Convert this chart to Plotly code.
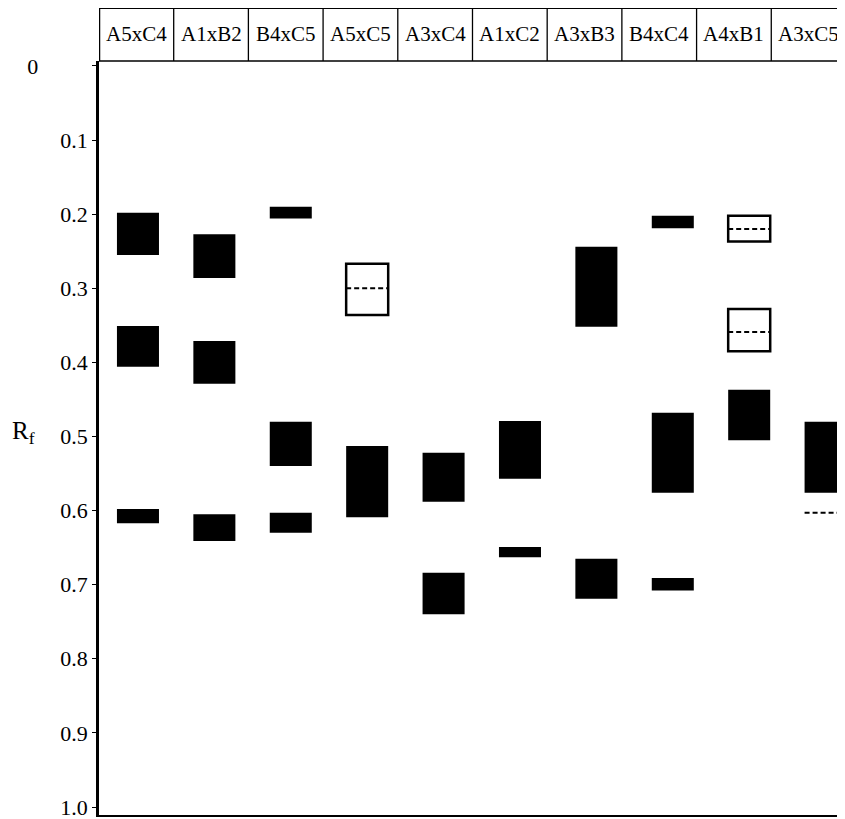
import plotly.graph_objects as go

# ---------------- data ----------------
categories = ["A5xC4", "A1xB2", "B4xC5", "A5xC5", "A3xC4",
              "A1xC2", "A3xB3", "B4xC4", "A4xB1", "A3xC5"]

# solid (filled) bands: lane index, Rf top, Rf bottom
solid_lane = [0, 0, 0, 1, 1, 1, 2, 2, 2, 3, 4, 4, 5, 5, 6, 6, 7, 7, 7, 8, 9]
solid_top = [0.198, 0.351, 0.598, 0.227, 0.371, 0.605, 0.190, 0.480, 0.603,
             0.513, 0.522, 0.684, 0.479, 0.649, 0.244, 0.665, 0.202, 0.468,
             0.691, 0.437, 0.480]
solid_bottom = [0.255, 0.406, 0.617, 0.286, 0.429, 0.641, 0.206, 0.540, 0.630,
                0.609, 0.588, 0.740, 0.557, 0.663, 0.352, 0.719, 0.219, 0.576,
                0.708, 0.505, 0.576]

# open (faint) bands
open_lane = [3, 8, 8]
open_top = [0.267, 0.202, 0.328]
open_bottom = [0.336, 0.237, 0.385]

# dashed lines (very faint bands)
dash_lane = [3, 8, 8, 9]
dash_rf = [0.300, 0.220, 0.359, 0.603]

rf_ticks = [0.0, 0.1, 0.2, 0.3, 0.4, 0.5, 0.6, 0.7, 0.8, 0.9, 1.0]
rf_ticktext = ["0" + "\u00a0" * 9, "0.1", "0.2", "0.3", "0.4", "0.5",
               "0.6", "0.7", "0.8", "0.9", "1.0"]

# ---------------- figure ----------------
BW = 0.55
fig = go.Figure()

fig.add_trace(go.Bar(
    x=solid_lane,
    base=solid_top,
    y=[b - t for t, b in zip(solid_top, solid_bottom)],
    width=BW,
    marker=dict(color="black", line=dict(width=0)),
    hoverinfo="skip", showlegend=False,
))

fig.add_trace(go.Bar(
    x=open_lane,
    base=open_top,
    y=[b - t for t, b in zip(open_top, open_bottom)],
    width=BW,
    marker=dict(color="white", line=dict(color="black", width=2.5)),
    hoverinfo="skip", showlegend=False,
))

dx, dy = [], []
for lane, rf in zip(dash_lane, dash_rf):
    dx += [lane - BW / 2, lane + BW / 2, None]
    dy += [rf, rf, None]
fig.add_trace(go.Scatter(
    x=dx, y=dy, mode="lines",
    line=dict(color="black", width=2, dash="5px,3px"),
    hoverinfo="skip", showlegend=False,
))

# invisible trace to anchor header axis
fig.add_trace(go.Scatter(
    x=list(range(len(categories))), y=[0.5] * len(categories),
    xaxis="x2", yaxis="y", mode="markers",
    marker=dict(opacity=0), hoverinfo="skip", showlegend=False,
))

HDR = 1.0703
shapes = []
# header box lines
shapes.append(dict(type="line", xref="paper", yref="paper", x0=0, x1=1,
                   y0=HDR, y1=HDR, line=dict(color="black", width=2)))
shapes.append(dict(type="line", xref="paper", yref="paper", x0=0, x1=1,
                   y0=1, y1=1, line=dict(color="black", width=1.5)))
shapes.append(dict(type="line", xref="x2", yref="paper", x0=-0.5, x1=-0.5,
                   y0=1, y1=HDR, line=dict(color="black", width=2.5)))
for k in range(1, len(categories)):
    shapes.append(dict(type="line", xref="x2", yref="paper",
                       x0=k - 0.5, x1=k - 0.5, y0=1, y1=HDR,
                       line=dict(color="black", width=1.3)))

annotations = []
for i, c in enumerate(categories):
    annotations.append(dict(
        x=i, y=(1 + HDR) / 2, xref="x2", yref="paper",
        text=c, showarrow=False, xanchor="center", yanchor="middle",
        font=dict(family="Liberation Serif", size=21, color="black"),
    ))
annotations.append(dict(
    x=-0.119, y=0.495, xref="paper", yref="y",
    text="R<sub>f</sub>", showarrow=False, xanchor="left", yanchor="middle",
    font=dict(family="Liberation Serif", size=25, color="black"),
))

# page body has an 8px default margin, so the figure is 8px smaller
fig.update_layout(
    width=837, height=811,
    margin=dict(l=91, r=0, t=53, b=4),
    paper_bgcolor="white", plot_bgcolor="white",
    barmode="overlay",
    font=dict(family="Liberation Serif", color="black"),
    xaxis=dict(type="linear", range=[-0.510, 9.254], showgrid=False,
               zeroline=False, showticklabels=False, ticks="",
               showline=True, linecolor="black", linewidth=2),
    xaxis2=dict(type="linear", range=[-0.5, 9.487], overlaying="x",
                visible=False, showgrid=False, zeroline=False),
    yaxis=dict(range=[1.0108, -0.0067], showgrid=False, zeroline=False,
               tickmode="array", tickvals=rf_ticks, ticktext=rf_ticktext,
               ticks="outside", ticklen=4, tickwidth=1, tickcolor="black",
               ticklabeloverflow="allow",
               tickfont=dict(family="Liberation Serif", size=22, color="black"),
               showline=True, linecolor="black", linewidth=2.5),
    shapes=shapes,
    annotations=annotations,
)

fig.write_html("out.html")
